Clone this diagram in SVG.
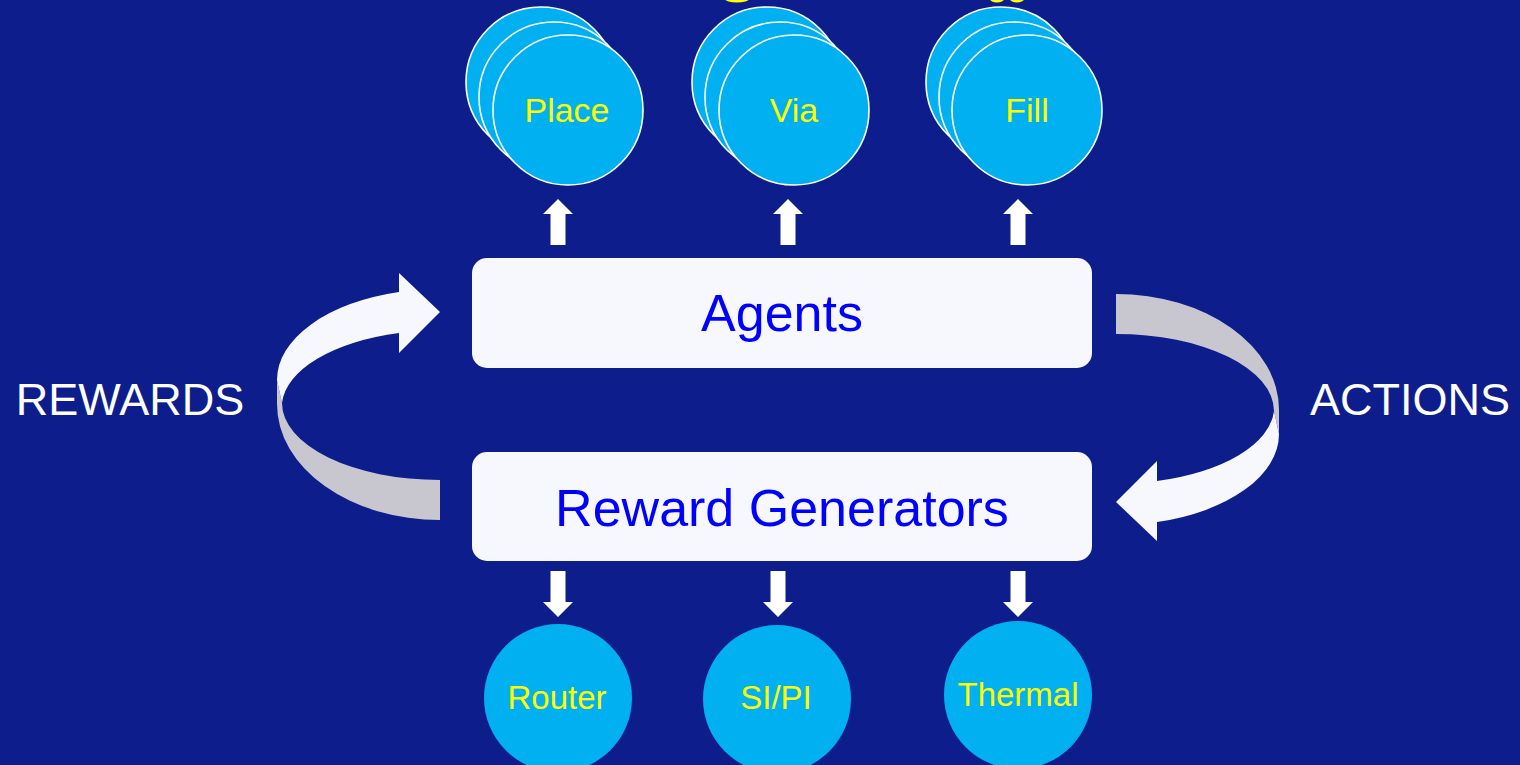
<svg xmlns="http://www.w3.org/2000/svg" xmlns:xlink="http://www.w3.org/1999/xlink" width="1520" height="765" viewBox="0 0 1520 765">
  <style>
    .bg { fill: #0D1E8C; }
    .agent { fill: #00B0F0; stroke: #FFFFFF; stroke-width: 1.6; }
    .gen { fill: #00B0F0; }
    .box { fill: #F7F8FD; }
    .ylabel { font-family: "Liberation Sans", Arial, sans-serif; fill: #FFFF00; text-anchor: middle; }
    .blabel { font-family: "Liberation Sans", Arial, sans-serif; fill: #0000FF; font-size: 52px; text-anchor: middle; }
    .side { font-family: "Liberation Sans", Arial, sans-serif; fill: #FFFFFF; font-size: 45px; text-anchor: middle; }
    .block { fill: #FFFFFF; }
    .front { fill: #F7F8FD; }
    .back { fill: #C8C7D0; }
    .title-frag { fill: #FFFF00; }
  </style>
  <defs>
    <!-- block arrow pointing up, tip at origin -->
    <path id="upArrow" d="M0,0 L15,15 L7.5,15 L7.5,46 L-7.5,46 L-7.5,15 L-15,15 Z"/>
    <!-- block arrow pointing down, tip at origin -->
    <path id="downArrow" d="M0,0 L15,-15 L7.5,-15 L7.5,-46 L-7.5,-46 L-7.5,-15 L-15,-15 Z"/>
    <!-- twisted ribbon arrow: grey back half, white front half with head -->
    <g id="loopArrow">
      <path class="back" d="M277,380 L277,404 A163,116 0 0 0 440,520 L440,480 A158,77 0 0 1 282,403 Z"/>
      <path class="front" d="M399,273 L440,312 L399,353 L399,333 A158,77 0 0 0 282,403 L277,380 A163,91 0 0 1 399,292 Z"/>
    </g>
  </defs>

  <rect class="bg" x="0" y="0" width="1520" height="765"/>

  <!-- descenders of the heading above the frame -->
  <g id="heading-edge">
    <ellipse class="title-frag" cx="737" cy="-1" rx="12" ry="3.5"/>
    <ellipse class="title-frag" cx="997" cy="-1" rx="7" ry="3.5"/>
    <ellipse class="title-frag" cx="1017" cy="-1" rx="7" ry="3.5"/>
  </g>

  <g id="connectors">
    <use xlink:href="#upArrow" class="block" x="558" y="199"/>
    <use xlink:href="#upArrow" class="block" x="788" y="199"/>
    <use xlink:href="#upArrow" class="block" x="1018" y="199"/>
    <use xlink:href="#downArrow" class="block" x="558" y="617"/>
    <use xlink:href="#downArrow" class="block" x="778" y="617"/>
    <use xlink:href="#downArrow" class="block" x="1018" y="617"/>
    <use xlink:href="#loopArrow"/>
    <use xlink:href="#loopArrow" transform="rotate(180 778 407)"/>
  </g>

  <g id="agent-place">
    <circle class="agent" cx="541" cy="82" r="75"/>
    <circle class="agent" cx="554" cy="97" r="75"/>
    <circle class="agent" cx="568" cy="110" r="75"/>
    <text class="ylabel" x="567" y="122" font-size="34">Place</text>
  </g>
  <g id="agent-via">
    <circle class="agent" cx="767" cy="82" r="75"/>
    <circle class="agent" cx="780" cy="97" r="75"/>
    <circle class="agent" cx="794" cy="110" r="75"/>
    <text class="ylabel" x="794" y="122" font-size="34">Via</text>
  </g>
  <g id="agent-fill">
    <circle class="agent" cx="1001" cy="82" r="75"/>
    <circle class="agent" cx="1014" cy="97" r="75"/>
    <circle class="agent" cx="1027" cy="110" r="75"/>
    <text class="ylabel" x="1027" y="122" font-size="34">Fill</text>
  </g>

  <g id="agents">
    <rect class="box" x="472" y="258" width="620" height="110" rx="15"/>
    <text class="blabel" x="782" y="331">Agents</text>
  </g>
  <g id="reward-generators">
    <rect class="box" x="472" y="452" width="620" height="109" rx="15"/>
    <text class="blabel" x="782" y="526">Reward Generators</text>
  </g>

  <g id="router">
    <circle class="gen" cx="558" cy="698" r="74"/>
    <text class="ylabel" x="557" y="709" font-size="33">Router</text>
  </g>
  <g id="sipi">
    <circle class="gen" cx="777" cy="699" r="74"/>
    <text class="ylabel" x="776" y="709" font-size="33">SI/PI</text>
  </g>
  <g id="thermal">
    <circle class="gen" cx="1018" cy="695" r="74"/>
    <text class="ylabel" x="1018" y="706" font-size="33">Thermal</text>
  </g>

  <g id="rewards-label">
    <text class="side" x="130" y="415">REWARDS</text>
  </g>
  <g id="actions-label">
    <text class="side" x="1410" y="415">ACTIONS</text>
  </g>
</svg>
